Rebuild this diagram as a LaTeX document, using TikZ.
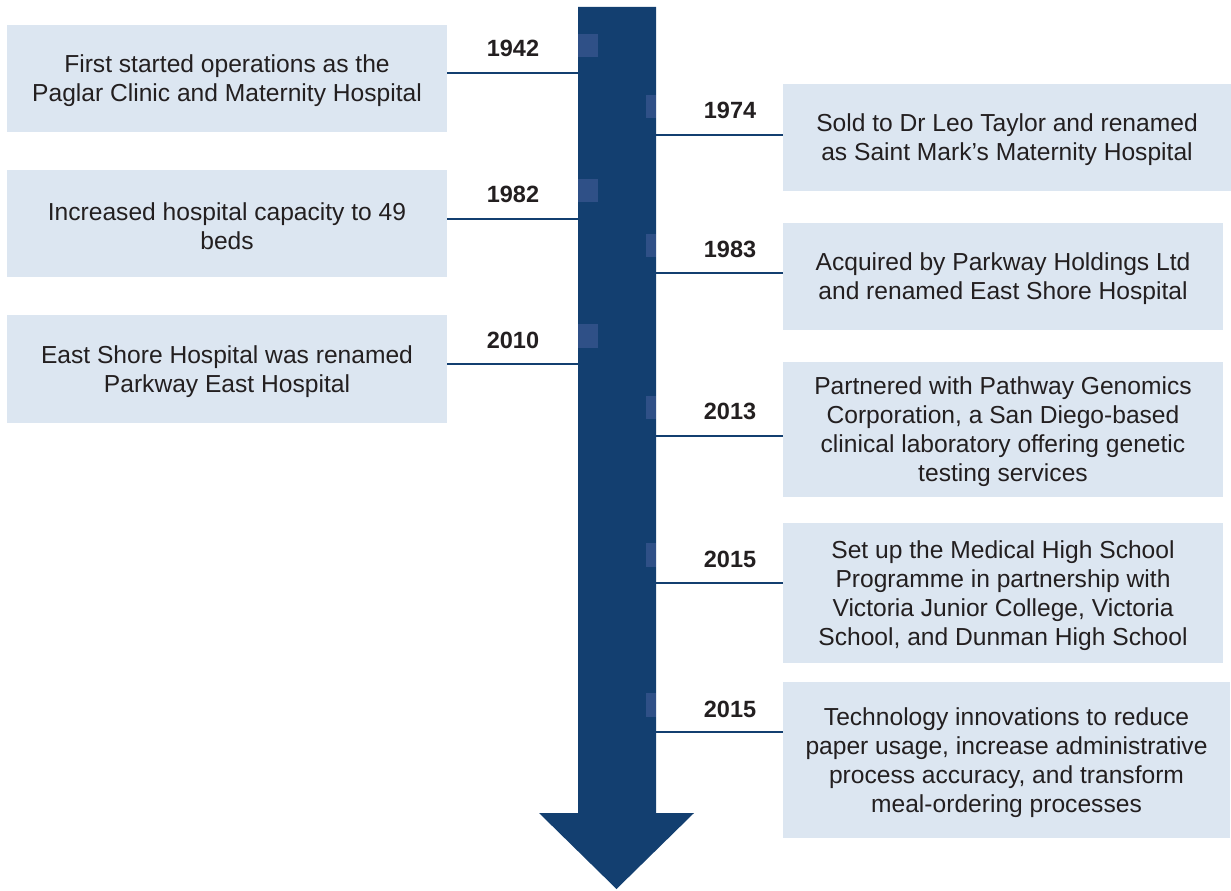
\documentclass[tikz,border=0pt]{standalone}
\usepackage{fontspec}
\setmainfont{Liberation Sans}
\definecolor{navy}{HTML}{133F70}
\definecolor{sq}{HTML}{2F5087}
\definecolor{boxfill}{HTML}{DCE6F1}
\definecolor{txt}{HTML}{231F20}
\begin{document}
\begin{tikzpicture}[x=1pt,y=-1pt,
  evbox/.style={fill=boxfill,draw=none,inner sep=0pt,align=center,text=txt,
    font=\fontsize{24.6}{29}\selectfont},
  year/.style={font=\fontsize{23.5}{28}\selectfont\bfseries,text=txt,inner sep=0pt},
  conn/.style={draw=navy,line width=1.8pt}]
\useasboundingbox (0,0) rectangle (1231,891);
% arrow
\fill[navy] (578,7) -- (656,7) -- (656,813) -- (694,813) -- (616.5,889) -- (539,813) -- (578,813) -- cycle;
% small squares
\foreach \a/\b in {34/57,179/202,324/348}{\fill[sq] (578,\a) rectangle (598,\b);}
\foreach \a/\b in {95/118,234/257,396/419,543/567,693/717}{\fill[sq] (646,\a) rectangle (656,\b);}
% left boxes
\node[evbox,minimum width=440pt,minimum height=107pt] (b1) at (227,78.5) {};
\node[evbox,minimum width=440pt,minimum height=107pt] (b2) at (227,223.5) {};
\node[evbox,minimum width=440pt,minimum height=108pt] (b3) at (227,369) {};
% right boxes
\node[evbox,minimum width=448pt,minimum height=107pt] (r1) at (1007,137.5) {};
\node[evbox,minimum width=440pt,minimum height=107pt] (r2) at (1003,276.5) {};
\node[evbox,minimum width=440pt,minimum height=135pt] (r3) at (1003,429.5) {};
\node[evbox,minimum width=440pt,minimum height=140pt] (r4) at (1003,593) {};
\node[evbox,minimum width=447pt,minimum height=156pt] (r5) at (1006.5,760) {};
% texts
\tikzset{evtext/.style={evbox,fill=none}}
\node[evtext] (t1) at ([yshift=-2.5pt]b1.center) {First started operations as the\\Paglar Clinic and Maternity Hospital};
\node[evtext] (t2) at ([yshift=-2.5pt]b2.center) {Increased hospital capacity to 49\\beds};
\node[evtext] (t3) at ([yshift=-2.5pt]b3.center) {East Shore Hospital was renamed\\Parkway East Hospital};
\node[evtext] (s1) at ([yshift=-2.5pt]r1.center) {Sold to Dr Leo Taylor and renamed\\as Saint Mark's Maternity Hospital};
\node[evtext] (s2) at ([yshift=-2.5pt]r2.center) {Acquired by Parkway Holdings Ltd\\and renamed East Shore Hospital};
\node[evtext] (s3) at ([yshift=-2.5pt]r3.center) {Partnered with Pathway Genomics\\Corporation, a San Diego-based\\clinical laboratory offering genetic\\testing services};
\node[evtext] (s4) at ([yshift=-2.5pt]r4.center) {Set up the Medical High School\\Programme in partnership with\\Victoria Junior College, Victoria\\School, and Dunman High School};
\node[evtext] (s5) at ([yshift=-2.5pt]r5.center) {Technology innovations to reduce\\paper usage, increase administrative\\process accuracy, and transform\\meal-ordering processes};
% connector end points on the shaft
\coordinate (c1) at (578,73);
\coordinate (c2) at (578,219);
\coordinate (c3) at (578,364);
\coordinate (d1) at (656,135);
\coordinate (d2) at (656,273);
\coordinate (d3) at (656,436);
\coordinate (d4) at (656,583);
\coordinate (d5) at (656,732);
\draw[conn] (b1.east |- c1) -- (c1);
\draw[conn] (b2.east |- c2) -- (c2);
\draw[conn] (b3.east |- c3) -- (c3);
\draw[conn] (d1) -- (r1.west |- d1);
\draw[conn] (d2) -- (r2.west |- d2);
\draw[conn] (d3) -- (r3.west |- d3);
\draw[conn] (d4) -- (r4.west |- d4);
\draw[conn] (d5) -- (r5.west |- d5);
% years
\node[year] (y1) at (513,48) {1942};
\node[year] (y2) at (513,194) {1982};
\node[year] (y3) at (513,340) {2010};
\node[year] (y4) at (730,110) {1974};
\node[year] (y5) at (730,249) {1983};
\node[year] (y6) at (730,411) {2013};
\node[year] (y7) at (730,559) {2015};
\node[year] (y8) at (730,709) {2015};
\end{tikzpicture}
\end{document}
